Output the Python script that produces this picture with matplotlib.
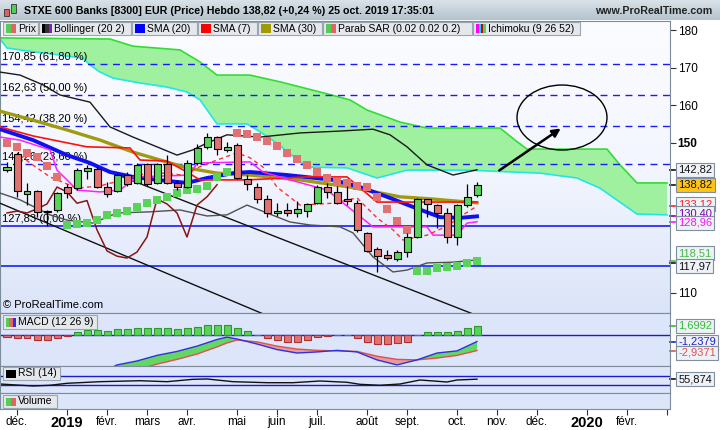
import matplotlib

matplotlib.use("Agg")
import matplotlib.pyplot as plt
import numpy as np
from matplotlib.colors import LinearSegmentedColormap
from matplotlib.patches import Ellipse, Rectangle

plt.rcParams["font.family"] = ["Liberation Sans", "DejaVu Sans"]

W, H = 720, 430

# weekly candles, bar index 0..47 (last bar = week of 21 Oct 2019)
opens = [142.7, 147.0, 136.3, 137.1, 131.8, 132.1, 138.2, 137.9, 142.5, 143.0,
         138.2, 137.1, 141.4, 139.3, 144.3, 139.3, 144.3, 139.3, 138.2, 144.6,
         148.9, 151.5, 148.1, 149.5, 140.3, 138.2, 135.0, 131.3, 132.1, 131.3,
         131.8, 133.9, 138.2, 136.9, 134.8, 133.9, 126.0, 121.7, 120.1, 119.0,
         120.9, 124.9, 135.0, 133.4, 131.3, 124.9, 133.4, 136.1]
highs = [144.9, 147.3, 139.3, 137.4, 132.1, 136.9, 139.0, 143.3, 144.1, 143.5,
         139.5, 142.0, 142.2, 144.6, 144.6, 144.6, 146.7, 140.1, 145.4, 149.6,
         152.5, 151.8, 150.2, 150.0, 141.4, 139.3, 136.1, 134.0, 134.0, 134.5,
         133.9, 138.7, 139.3, 138.5, 138.5, 134.8, 126.3, 122.3, 121.4, 121.4,
         126.0, 135.3, 135.0, 133.7, 132.6, 133.7, 139.0, 139.5]
lows = [142.2, 135.6, 133.4, 130.2, 127.83, 131.6, 135.2, 137.4, 140.3, 138.0,
        135.6, 136.9, 138.5, 139.0, 138.5, 139.0, 139.0, 137.4, 137.9, 144.0,
        148.3, 146.7, 147.6, 140.3, 137.4, 134.0, 130.3, 130.5, 130.5, 130.3,
        130.3, 133.7, 135.4, 133.7, 133.4, 126.3, 120.9, 115.6, 118.8, 118.5,
        119.5, 124.6, 130.3, 127.3, 123.3, 122.7, 132.9, 135.6]
closes = [143.5, 137.1, 137.1, 131.6, 131.5, 136.6, 136.6, 142.7, 143.3, 138.2,
          136.3, 141.4, 139.0, 144.1, 139.0, 144.3, 139.3, 138.2, 144.6, 148.6,
          151.5, 148.3, 148.9, 140.6, 139.0, 135.0, 131.3, 131.8, 131.3, 132.4,
          133.7, 138.2, 136.9, 133.9, 134.6, 126.8, 121.2, 119.8, 119.3, 120.9,
          124.9, 135.0, 133.7, 131.3, 124.9, 133.4, 135.6, 138.82]

sar = [150.0, 148.9, 147.3, 146.2, 143.8, 140.9, 128.1, 128.4, 128.6, 129.4,
       130.8, 131.3, 131.8, 132.9, 133.9, 134.7, 135.6, 136.6, 137.4, 137.7,
       138.5, 140.9, 142.2, 152.6, 152.3, 151.5, 150.5, 149.1, 147.3, 145.7,
       144.1, 142.2, 140.6, 139.5, 139.3, 138.5, 138.2, 135.6, 132.4, 129.2,
       126.8, 115.9, 115.9, 116.6, 116.9, 117.2, 118.0, 118.5]

# Bollinger (20 2) bands
boll_up_x = [-0.7, 1.3, 3.6, 5.3, 8.3, 10.3, 12.6, 15.0, 17.0, 18.6, 20.0, 22.0,
             25.3, 29.3, 33.3, 36.6, 38.3, 40.0, 42.0, 44.6, 47.0]
boll_up = [168.8, 168.0, 165.4, 162.7, 160.8, 154.2, 151.5, 148.9, 146.7, 148.1,
           149.9, 152.1, 151.5, 152.6, 153.1, 153.6, 152.1, 148.9, 144.1, 141.4, 142.8]
boll_lo_x = [-0.7, 1.3, 4.3, 6.0, 8.6, 11.0, 14.3, 17.3, 20.0, 22.0, 24.0, 26.0,
             28.3, 30.3, 33.3, 34.6, 36.6, 38.6, 40.0, 42.0, 44.6, 47.0]
boll_lo = [136.6, 134.8, 130.8, 129.4, 128.6, 131.3, 131.6, 132.1, 130.5, 130.8,
           133.4, 131.3, 128.9, 128.1, 127.6, 126.0, 119.6, 115.6, 116.1, 118.0,
           118.2, 118.8]

# moving averages
sma20_x = [-0.7, 2.6, 6.0, 8.3, 10.3, 12.6, 15.0, 18.0, 20.0, 22.6, 24.3, 28.0,
           32.6, 35.3, 38.0, 40.6, 43.3, 45.3, 47.0]
sma20 = [153.6, 150.7, 146.7, 144.6, 142.2, 140.9, 140.1, 139.3, 140.6, 141.9,
         142.2, 141.4, 140.1, 138.2, 135.6, 132.9, 130.2, 130.0, 130.4]
sma30_x = [-0.7, 2.6, 6.0, 9.3, 12.6, 15.3, 18.0, 21.0, 24.3, 29.3, 34.3, 39.3, 42.6, 47.0]
sma30 = [158.4, 156.0, 153.4, 150.7, 147.5, 145.4, 143.3, 141.9, 141.4, 140.1,
         138.2, 135.6, 135.0, 134.0]
sma7_x = [1.3, 2.3, 4.3, 7.0, 9.3, 12.3, 14.3, 17.6, 19.0, 21.0, 23.0, 24.3, 25.6,
          27.0, 29.3, 32.6, 35.0, 37.0, 38.6, 39.6, 42.0, 44.0, 45.6, 47.0]
sma7 = [146.7, 144.6, 140.9, 137.9, 138.5, 140.6, 142.2, 141.4, 143.3, 145.4,
        147.3, 146.0, 143.5, 138.2, 133.4, 133.9, 135.3, 130.0, 126.8, 124.1,
        125.4, 127.8, 130.8, 133.12]

# Ichimoku (9 26 52)
tenkan_x = [-0.7, 1.3, 4.3, 5.0, 6.0, 7.0, 9.3, 11.3, 13.0, 15.3, 18.3, 19.0,
            24.3, 25.6, 28.3, 32.0, 36.6, 42.0, 42.6, 45.0, 46.0, 47.0]
tenkan = [151.5, 150.7, 148.1, 142.7, 140.1, 137.4, 136.9, 137.4, 140.9, 141.1,
          141.4, 144.6, 144.9, 142.2, 140.1, 137.4, 127.6, 127.6, 125.4, 125.4,
          128.6, 128.96]
kijun_x = [-0.7, 2.6, 8.0, 12.3, 13.3, 16.0, 18.0, 19.3, 24.0, 30.0, 34.0, 37.0, 47.0]
kijun = [154.2, 151.8, 148.9, 148.6, 145.4, 145.1, 142.2, 140.1, 140.1, 140.9,
         140.9, 134.2, 134.2]
cloud_top_x = [-0.7, 10.3, 12.6, 17.3, 19.3, 21.0, 24.3, 27.3, 31.3, 34.3, 36.0,
               39.3, 42.0, 49.3, 50.8, 52.0, 60.0, 61.3, 63.0, 66.0]
cloud_top = [177.9, 177.6, 175.7, 174.7, 171.5, 168.0, 168.0, 166.2, 163.5, 161.4,
             158.7, 155.5, 153.9, 153.9, 150.7, 148.3, 148.3, 144.1, 139.3, 139.3]
cloud_bot_x = [-0.7, 0.0, 1.3, 7.6, 8.3, 9.3, 10.6, 13.3, 16.0, 18.0, 19.3, 21.0,
               24.0, 25.3, 26.8, 30.0, 34.0, 37.0, 40.0, 42.6, 46.0, 53.3, 57.0,
               59.3, 63.0, 66.0]
cloud_bot = [177.6, 175.2, 174.7, 172.5, 170.7, 168.8, 167.2, 165.9, 164.8, 163.5,
             161.4, 155.0, 155.0, 152.9, 150.2, 143.5, 143.3, 140.6, 142.7, 142.7,
             142.7, 141.9, 140.6, 137.9, 131.0, 130.8]

# Fibonacci retracement and support
fibo_levels = [170.85, 162.63, 154.42, 144.26]
fibo_labels = ["170,85 (61,80 %)", "162,63 (50,00 %)", "154,42 (38,20 %)", "144,26 (23,60 %)"]
fibo_base = 127.83
support = 117.2

# drawn objects (bar index, price)
trend_upper = ([8.8, 47.0], [143.8, 104.0])
trend_lower = ([-0.7, 26.0], [133.9, 104.0])
arrow_from = (49.0, 142.2)
arrow_to = (55.6, 154.2)
ellipse_center = (55.5, 156.7)
ellipse_size = (9.0, 17.3)

# MACD (12 26 9)
macd_hist = [-0.35, -0.6, -0.6, -0.9, -0.9, -0.6, -0.15, 0.55, 0.95, 0.95,
             0.8, 1.05, 1.05, 1.4, 1.25, 1.4, 1.25, 1.05, 1.25, 1.6,
             1.9, 1.9, 1.9, 1.25, 0.75, 0.0, -0.6, -0.9, -1.25, -1.25,
             -0.9, -0.45, -0.2, 0.0, 0.0, -0.6, -1.25, -1.7, -1.75, -1.6,
             -1.25, 0.0, 0.5, 0.6, 0.5, 0.8, 1.25, 1.6992]
macd_x = [9, 11, 13, 15, 17, 19, 21, 22, 23, 25, 27, 29, 31, 33, 35, 37, 39, 41, 43, 45, 47]
macd_line = [-7.5, -5.65, -4.9, -3.85, -3.1, -2.1, -0.85, -0.4, -0.75, -1.7, -2.75,
             -3.4, -3.2, -2.9, -3.2, -4.7, -5.65, -4.7, -3.4, -3.0, -1.2379]
macd_signal = [-9.0, -8.0, -6.6, -5.5, -4.6, -3.6, -2.25, -1.5, -0.95, -1.3, -2.1,
               -2.65, -2.9, -3.0, -3.1, -4.0, -4.6, -4.7, -4.35, -3.85, -2.9371]

# RSI (14)
rsi_x = [-0.7, 2.6, 4.3, 6.0, 9.3, 13.3, 16.0, 18.6, 20.0, 22.6, 26.0, 28.6,
         31.3, 34.0, 35.3, 37.3, 39.3, 41.3, 44.0, 45.0, 47.0]
rsi = [34.4, 25.6, 28.7, 37.5, 44.7, 49.0, 44.7, 55.3, 56.7, 44.7, 40.2, 40.2,
       47.8, 42.0, 33.0, 28.7, 34.4, 52.2, 43.3, 52.2, 55.874]

month_ticks = [1, 6, 10, 14, 18, 23, 27, 31, 36, 40, 45, 49, 53, 58, 62, 66]
month_labels = ["déc.", "2019", "févr.", "mars", "avr.", "mai", "juin", "juil.",
                "août", "sept.", "oct.", "nov.", "déc.", "2020", "févr.", ""]

PX_PER_UNIT = 3.757
XLIM = (-0.7, 66.3)
GREEN, RED = "#5ad35a", "#e27272"
FS = 7.5


def fig_y(py):
    return 1 - py / H


def add_panel(fig, top, bottom):
    ax = fig.add_axes([0, fig_y(bottom), 670 / W, (bottom - top) / H])
    ax.set_xlim(*XLIM)
    ax.set_xticks([])
    for side in ("top", "bottom", "left", "right"):
        ax.spines[side].set_color("#7d8c99")
    return ax


def value_box(ax, value, text, color, face="#eef2f7", nudge_px=0.0):
    ax.annotate(text, xy=(1.0, value), xycoords=ax.get_yaxis_transform(),
                xytext=(6, -nudge_px * 0.72), textcoords="offset points",
                va="center", ha="left", fontsize=FS + 0.5, color=color,
                annotation_clip=False, zorder=20,
                bbox=dict(boxstyle="square,pad=0.18", fc=face, ec="#7f8f9f", lw=0.8))
    ax.plot([1.0, 1.008], [value, value], transform=ax.get_yaxis_transform(),
            color=color, lw=1.2, clip_on=False)


def draw_main(fig):
    ax = add_panel(fig, 21, 313)
    top = 180 + (30 - 21) / PX_PER_UNIT
    bottom = 180 - (313 - 30) / PX_PER_UNIT
    grad = np.linspace(0, 1, 256).reshape(-1, 1)
    cmap = LinearSegmentedColormap.from_list("bg", ["#dbe4f9", "#f3f6fe", "#fbfcff"])
    ax.imshow(grad, extent=[0, 1, 0, 1], transform=ax.transAxes, aspect="auto",
              origin="lower", cmap=cmap, zorder=0)

    # ichimoku cloud
    ax.fill(np.concatenate([cloud_top_x, cloud_bot_x[::-1]]),
            np.concatenate([cloud_top, cloud_bot[::-1]]),
            color="#9ff09f", lw=0, zorder=1)
    ax.plot(cloud_top_x, cloud_top, color="#33dd33", lw=1.2, zorder=2)
    ax.plot(cloud_bot_x, cloud_bot, color="#22e6e6", lw=1.2, zorder=2)

    for level, label in zip(fibo_levels, fibo_labels):
        ax.axhline(level, color="#1a1aff", lw=1.0, ls=(0, (5, 4)), zorder=2)
        ax.text(-0.45, level + 0.6, label, fontsize=FS + 0.5, va="bottom", zorder=3)
    ax.axhline(fibo_base, color="#1a1aff", lw=1.2, zorder=2)
    ax.text(-0.45, fibo_base + 0.6, "127,83 (0,00 %)", fontsize=FS + 0.5, va="bottom", zorder=3)
    ax.axhline(support, color="#3040ff", lw=1.4, zorder=2)

    ax.plot(*trend_upper, color="#111111", lw=1.0, zorder=3)
    ax.plot(*trend_lower, color="#111111", lw=1.0, zorder=3)

    ax.plot(boll_up_x, boll_up, color="#1a1a1a", lw=1.0, zorder=3)
    ax.plot(boll_lo_x, boll_lo, color="#505050", lw=1.0, zorder=3)
    ax.plot(sma30_x, sma30, color="#a09a10", lw=2.4, zorder=4)
    ax.plot(sma20_x, sma20, color="#1010f0", lw=2.8, zorder=4)
    ax.plot(kijun_x, kijun, color="#ff1010", lw=1.2, zorder=4)
    ax.plot(tenkan_x, tenkan, color="#ff20ff", lw=1.1, zorder=4)
    ax.plot(sma7_x, sma7, color="#ff3030", lw=1.0, ls=(0, (3, 2.5)), zorder=4)
    idx = np.arange(len(closes))
    ax.plot(idx[26:] - 26, closes[26:], color="#8b1414", lw=1.1, zorder=4)

    # parabolic SAR squares
    sar_cols = [GREEN if s < c else RED for s, c in zip(sar, closes)]
    ax.scatter(idx, sar, marker="s", s=32, c=sar_cols, lw=0, zorder=5)

    # candles
    for i, (o, hi, lo, c) in enumerate(zip(opens, highs, lows, closes)):
        col = GREEN if c >= o else RED
        ax.vlines(i, lo, hi, color="#000000", lw=0.9, zorder=6)
        body = max(abs(c - o), 0.35)
        ax.add_patch(Rectangle((i - 0.35, min(o, c)), 0.7, body, fc=col,
                               ec="#000000", lw=0.8, zorder=7))

    ax.annotate("", xy=arrow_to, xytext=arrow_from, zorder=8,
                arrowprops=dict(arrowstyle="-|>", color="#000000", lw=1.8,
                                mutation_scale=12))
    ax.add_patch(Ellipse(ellipse_center, *ellipse_size, fill=False,
                         ec="#000000", lw=1.0, zorder=8))

    ax.text(0.004, 0.01, "© ProRealTime.com", transform=ax.transAxes,
            fontsize=FS + 0.5, va="bottom", zorder=9)

    ax.set_ylim(bottom, top)
    ax.set_xlim(*XLIM)
    ax.yaxis.tick_right()
    ax.set_yticks([110, 150, 160, 170, 180])
    ax.set_yticklabels(["110", "150", "160", "170", "180"], fontsize=FS + 1)
    ax.get_yticklabels()[1].set_fontweight("bold")
    ax.tick_params(axis="y", length=4, pad=1.5, color="#333333")

    value_box(ax, 142.82, "142,82", "#111111")
    value_box(ax, 138.82, "138,82", "#111111", face="#ffc31a")
    value_box(ax, 133.12, "133,12", "#ff2020", nudge_px=-2)
    value_box(ax, 130.40, "130,40", "#7a00b0", nudge_px=-3)
    value_box(ax, 128.96, "128,96", "#ff10ff", nudge_px=1)
    value_box(ax, 118.51, "118,51", "#44bb44", nudge_px=-8)
    value_box(ax, 117.97, "117,97", "#111111", nudge_px=3)
    return ax


def draw_macd(fig):
    ax = add_panel(fig, 313, 366)
    ax.set_facecolor("#dce5f9")
    ax.axhline(0, color="#1a1ad0", lw=1.0, zorder=2)
    idx = np.arange(len(macd_hist))
    cols = [GREEN if v >= 0 else RED for v in macd_hist]
    edges = ["#2a9a2a" if v >= 0 else "#b03030" for v in macd_hist]
    ax.bar(idx, macd_hist, width=0.7, color=cols, edgecolor=edges, lw=0.8, zorder=3)
    m = np.array(macd_line)
    s = np.array(macd_signal)
    ax.fill_between(macd_x, m, s, where=m >= s, interpolate=True, color="#62d862", lw=0, zorder=1)
    ax.fill_between(macd_x, m, s, where=m < s, interpolate=True, color="#e89a9a", lw=0, zorder=1)
    ax.plot(macd_x, s, color="#e05050", lw=1.0, zorder=2)
    ax.plot(macd_x, m, color="#3030e0", lw=1.0, zorder=2)
    ax.set_ylim(-5.85, 4.15)
    ax.set_yticks([])
    value_box(ax, 1.6992, "1,6992", "#33bb33")
    value_box(ax, -1.2379, "-1,2379", "#2020d0")
    value_box(ax, -2.9371, "-2,9371", "#e05050", nudge_px=2)
    return ax


def draw_rsi(fig):
    ax = add_panel(fig, 366, 393)
    ax.set_facecolor("#dce5f9")
    ax.axhline(70, color="#1a1ad0", lw=1.0)
    ax.axhline(30, color="#1a1ad0", lw=1.0)
    ax.plot(rsi_x, rsi, color="#111111", lw=1.0)
    ax.set_ylim(-5.6, 114.4)
    ax.set_yticks([])
    value_box(ax, 55.874, "55,874", "#111111")
    return ax


def draw_volume(fig):
    ax = add_panel(fig, 393, 409)
    ax.set_facecolor("#dce5f9")
    ax.set_yticks([])
    ax.set_xticks(month_ticks)
    ax.set_xticklabels(month_labels, fontsize=FS + 1)
    for lab in ax.get_xticklabels():
        if lab.get_text() in ("2019", "2020"):
            lab.set_fontweight("bold")
            lab.set_fontsize(FS + 3)
    ax.tick_params(axis="x", length=4, pad=1, color="#333333")
    return ax


def panel_label(fig, x0, y0, w, h, text, colors):
    fig.patches.append(Rectangle((x0 / W, fig_y(y0 + h)), w / W, h / H,
                                 transform=fig.transFigure, fc="#e4e8ec",
                                 ec="#9aa6b0", lw=0.8, zorder=30))
    n = len(colors)
    for k, c in enumerate(colors):
        fig.patches.append(Rectangle(((x0 + 3 + k * 10 / n) / W, fig_y(y0 + h - 2.5)),
                                     10 / n / W, (h - 5) / H, transform=fig.transFigure,
                                     fc=c, ec="none", zorder=31))
    fig.text((x0 + 15) / W, fig_y(y0 + h / 2), text, fontsize=FS,
             va="center", ha="left", zorder=32)


def draw_header(fig):
    hax = fig.add_axes([0, fig_y(20), 1, 20 / H])
    grad = np.linspace(0, 1, 64).reshape(-1, 1)
    cmap = LinearSegmentedColormap.from_list("hd", ["#b4c3cd", "#d9e2e8"])
    hax.imshow(grad, extent=[0, 1, 0, 1], aspect="auto", origin="lower", cmap=cmap)
    hax.set_axis_off()
    # candle icon
    for x0, y0, hh, c in [(4, 9, 7, "#e06060"), (11, 4, 9, "#55cc55")]:
        fig.patches.append(Rectangle((x0 / W, fig_y(y0 + hh)), 5 / W, hh / H,
                                     transform=fig.transFigure, fc=c, ec="#333333",
                                     lw=0.6, zorder=30))
    fig.text(24 / W, fig_y(11), "STXE 600 Banks [8300] EUR (Price) Hebdo 138,82 (+0,24 %) 25 oct. 2019 17:35:01",
             fontsize=7.7, fontweight="bold", va="center", zorder=32)
    fig.text(712 / W, fig_y(11), "www.ProRealTime.com", fontsize=7.7,
             fontweight="bold", va="center", ha="right", color="#222222", zorder=32)

    legend_items = [
        (3, 35, "Prix", ["#55cc55", "#e06666"]),
        (39, 92, "Bollinger (20 2)", ["#000000", "#333333", "#8020c0"]),
        (132, 65, "SMA (20)", ["#0000ff"]),
        (198, 59, "SMA (7)", ["#ff0000"]),
        (258, 64, "SMA (30)", ["#a09a00"]),
        (323, 149, "Parab SAR (0.02 0.02 0.2)", ["#55cc55", "#e06666"]),
        (473, 107, "Ichimoku (9 26 52)", ["#ff00ff", "#00dddd", "#cc0000", "#55cc55"]),
    ]
    for x0, w, text, cols in legend_items:
        panel_label(fig, x0, 22, w, 13, text, cols)


def main():
    fig = plt.figure(figsize=(W / 100, H / 100), dpi=100)
    fig.patch.set_facecolor("#ffffff")
    draw_main(fig)
    draw_macd(fig)
    draw_rsi(fig)
    draw_volume(fig)
    draw_header(fig)
    panel_label(fig, 3, 315, 94, 14, "MACD (12 26 9)", ["#55cc55", "#e06666", "#3030e0"])
    panel_label(fig, 3, 367, 57, 13, "RSI (14)", ["#000000"])
    panel_label(fig, 3, 395, 54, 13, "Volume", ["#55cc55", "#e06666"])
    fig.savefig("out.png", dpi=100)
    plt.close(fig)


if __name__ == "__main__":
    main()
